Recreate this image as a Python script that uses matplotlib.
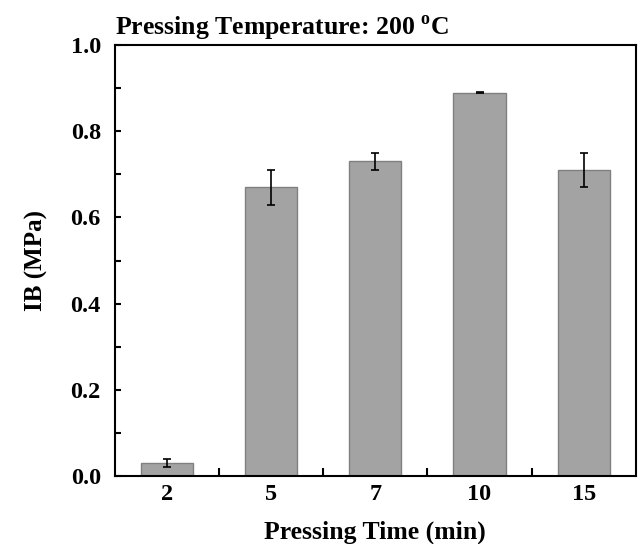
import numpy as np
import matplotlib.pyplot as plt
from matplotlib.ticker import FixedLocator, MultipleLocator

times = ['2', '5', '7', '10', '15']
ib = [0.03, 0.67, 0.73, 0.89, 0.71]
ib_err = [0.01, 0.04, 0.02, 0.001, 0.04]

plt.rcParams['font.family'] = 'Liberation Serif'
plt.rcParams['font.weight'] = 'bold'
plt.rcParams['mathtext.fontset'] = 'custom'
plt.rcParams['mathtext.rm'] = 'Liberation Serif:bold'
plt.rcParams['mathtext.bf'] = 'Liberation Serif:bold'

fig = plt.figure(figsize=(6.41, 5.44), dpi=100)
ax = fig.add_axes([0.179, 0.125, 0.813, 0.792])

x = np.arange(len(times))
ax.bar(x, ib, width=0.5, color='#a3a3a3', edgecolor='#808080', linewidth=1.0,
       yerr=ib_err, capsize=2.8, error_kw=dict(ecolor='black', elinewidth=1.2, capthick=1.2))

ax.set_xlim(-0.5, len(times) - 0.5)
ax.set_ylim(0, 1.0)

# x: major ticks between bars, labels at bar centres
ax.xaxis.set_major_locator(FixedLocator(x[:-1] + 0.5))
ax.xaxis.set_minor_locator(FixedLocator(x))
ax.set_xticklabels([''] * (len(times) - 1))
ax.set_xticklabels(times, minor=True)
ax.tick_params(axis='x', which='major', direction='in', length=6, width=1.5, top=False)
ax.tick_params(axis='x', which='minor', length=0, pad=6, labelsize=17.5)

ax.yaxis.set_major_locator(MultipleLocator(0.2))
ax.yaxis.set_minor_locator(MultipleLocator(0.1))
ax.yaxis.set_major_formatter(plt.FormatStrFormatter('%.1f'))
ax.tick_params(axis='y', which='both', direction='in', length=4.3, width=1.5, right=False,
               labelsize=17.5, pad=10)

for s in ax.spines.values():
    s.set_linewidth(1.5)

ax.set_xlabel('Pressing Time (min)', fontsize=18.5, fontweight='bold', labelpad=11)
ax.set_ylabel('IB (MPa)', fontsize=18, fontweight='bold', labelpad=16)
ax.set_title('Pressing Temperature: 200 $^{\\mathrm{o}}$C', loc='left', fontsize=18.5,
             fontweight='bold', pad=7)

fig.savefig('out.png', dpi=100)
